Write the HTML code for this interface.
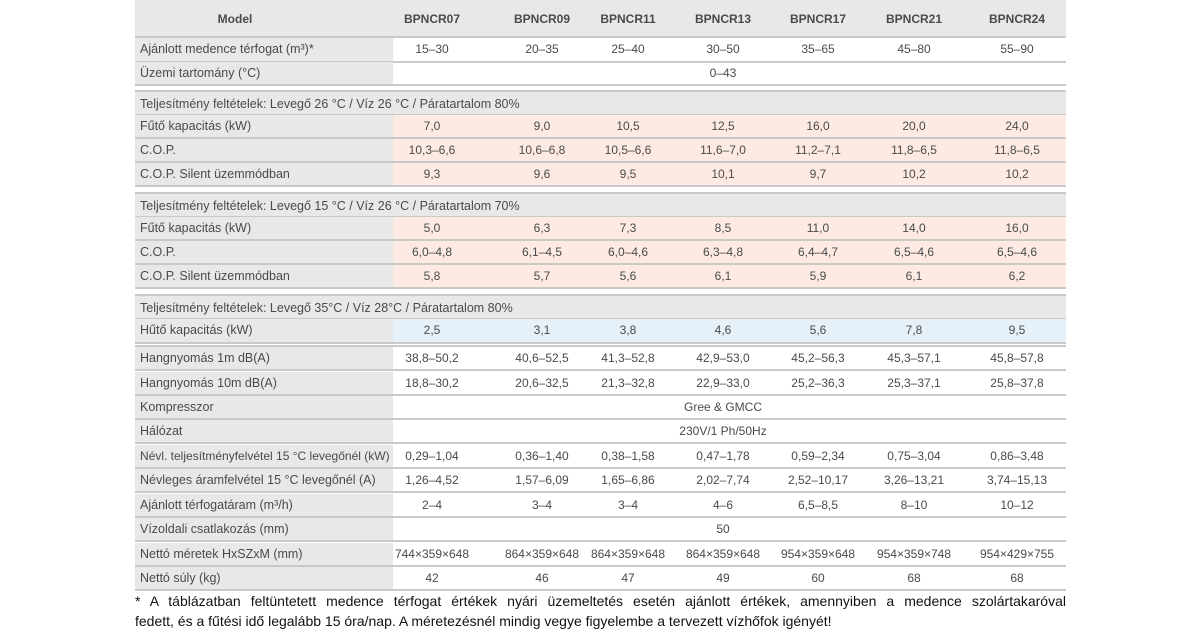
<!DOCTYPE html>
<html><head><meta charset="utf-8"><style>
body{margin:0;width:1200px;height:630px;background:#fff;position:relative;overflow:hidden;font-family:"Liberation Sans",sans-serif;color:#4a4a4a}
.r{position:absolute;left:135px;width:931px;height:24px;border-bottom:2px solid #c9c9c9;box-sizing:border-box}
.l{position:absolute;left:0;top:0;width:258px;height:100%;background:#e8e8e8}
.t{position:absolute;top:4px;font-size:12.5px;white-space:nowrap}
.v{position:absolute;top:4px;font-size:12px;white-space:nowrap;transform:translateX(-50%)}
.h{background:#e8e8e8}
.p{background:#fdebe3}.b{background:#e6f0f8}
.foot{position:absolute;left:135px;width:931px;font-size:14px;color:#111;text-align:justify;text-align-last:justify;white-space:nowrap;line-height:20px}
</style></head><body>
<div class="r h" style="top:0;height:38px">
<div class="v" style="left:100px;top:12px;font-weight:bold;font-size:12px">Model</div>
<div class="v" style="left:297px;top:12px;font-weight:bold;font-size:12px">BPNCR07</div>
<div class="v" style="left:407px;top:12px;font-weight:bold;font-size:12px">BPNCR09</div>
<div class="v" style="left:493px;top:12px;font-weight:bold;font-size:12px">BPNCR11</div>
<div class="v" style="left:588px;top:12px;font-weight:bold;font-size:12px">BPNCR13</div>
<div class="v" style="left:683px;top:12px;font-weight:bold;font-size:12px">BPNCR17</div>
<div class="v" style="left:779px;top:12px;font-weight:bold;font-size:12px">BPNCR21</div>
<div class="v" style="left:882px;top:12px;font-weight:bold;font-size:12px">BPNCR24</div>
</div>
<div id="rows"></div>
<div class="foot" style="top:591px">* A táblázatban feltüntetett medence térfogat értékek nyári üzemeltetés esetén ajánlott értékek, amennyiben a medence szolártakaróval</div>
<div class="foot" style="top:611px;text-align-last:left">fedett, és a fűtési idő legalább 15 óra/nap. A méretezésnél mindig vegye figyelembe a tervezett vízhőfok igényét!</div>
<script>
const C=[297,407,493,588,683,779,882];
const rows=[
[38,'Ajánlott medence térfogat (m³)*','w',['15–30','20–35','25–40','30–50','35–65','45–80','55–90']],
[62,'Üzemi tartomány (°C)','w','0–43'],
[90,'Teljesítmény feltételek: Levegő 26 °C / Víz 26 °C / Páratartalom 80%','H'],
[115,'Fűtő kapacitás (kW)','p',['7,0','9,0','10,5','12,5','16,0','20,0','24,0']],
[139,'C.O.P.','p',['10,3–6,6','10,6–6,8','10,5–6,6','11,6–7,0','11,2–7,1','11,8–6,5','11,8–6,5']],
[163,'C.O.P. Silent üzemmódban','p',['9,3','9,6','9,5','10,1','9,7','10,2','10,2']],
[192,'Teljesítmény feltételek: Levegő 15 °C / Víz 26 °C / Páratartalom 70%','H'],
[217,'Fűtő kapacitás (kW)','p',['5,0','6,3','7,3','8,5','11,0','14,0','16,0']],
[241,'C.O.P.','p',['6,0–4,8','6,1–4,5','6,0–4,6','6,3–4,8','6,4–4,7','6,5–4,6','6,5–4,6']],
[265,'C.O.P. Silent üzemmódban','p',['5,8','5,7','5,6','6,1','5,9','6,1','6,2']],
[294,'Teljesítmény feltételek: Levegő 35°C / Víz 28°C / Páratartalom 80%','H'],
[319,'Hűtő kapacitás (kW)','b',['2,5','3,1','3,8','4,6','5,6','7,8','9,5']],
[347,'Hangnyomás 1m dB(A)','w',['38,8–50,2','40,6–52,5','41,3–52,8','42,9–53,0','45,2–56,3','45,3–57,1','45,8–57,8']],
[372,'Hangnyomás 10m dB(A)','w',['18,8–30,2','20,6–32,5','21,3–32,8','22,9–33,0','25,2–36,3','25,3–37,1','25,8–37,8']],
[396,'Kompresszor','w','Gree &amp; GMCC'],
[420,'Hálózat','w','230V/1 Ph/50Hz'],
[445,'Névl. teljesítményfelvétel 15 °C levegőnél (kW)','w',['0,29–1,04','0,36–1,40','0,38–1,58','0,47–1,78','0,59–2,34','0,75–3,04','0,86–3,48']],
[469,'Névleges áramfelvétel 15 °C levegőnél (A)','w',['1,26–4,52','1,57–6,09','1,65–6,86','2,02–7,74','2,52–10,17','3,26–13,21','3,74–15,13']],
[494,'Ajánlott térfogatáram (m³/h)','w',['2–4','3–4','3–4','4–6','6,5–8,5','8–10','10–12']],
[518,'Vízoldali csatlakozás (mm)','w','50'],
[543,'Nettó méretek HxSZxM (mm)','w',['744×359×648','864×359×648','864×359×648','864×359×648','954×359×648','954×359×748','954×429×755']],
[567,'Nettó súly (kg)','w',['42','46','47','49','60','68','68']]
];
let h='';
for(const [y,lab,k,v] of rows){
 if(k==='H'){h+=`<div class="r h" style="top:${y}px;border-top:2px solid #c9c9c9;height:26px"><div class="t" style="left:5px;top:5px">${lab}</div></div>`;continue;}
 const bg=k==='p'?'p':k==='b'?'b':'';
 const fs=lab.length>42?'font-size:12px':'';
 h+=`<div class="r ${bg}" style="top:${y}px;height:${[319,38].includes(y)?25:24}px"><div class="l"></div><div class="t" style="left:5px;${fs}">${lab}</div>`;
 if(Array.isArray(v)) v.forEach((s,i)=>h+=`<div class="v" style="left:${C[i]}px">${s}</div>`);
 else h+=`<div class="v" style="left:588px">${v}</div>`;
 h+='</div>';
}
h+=`<div style="position:absolute;left:135px;width:931px;top:345px;height:2px;background:#c9c9c9"></div>`;
document.getElementById('rows').innerHTML=h;
</script>
</body></html>
